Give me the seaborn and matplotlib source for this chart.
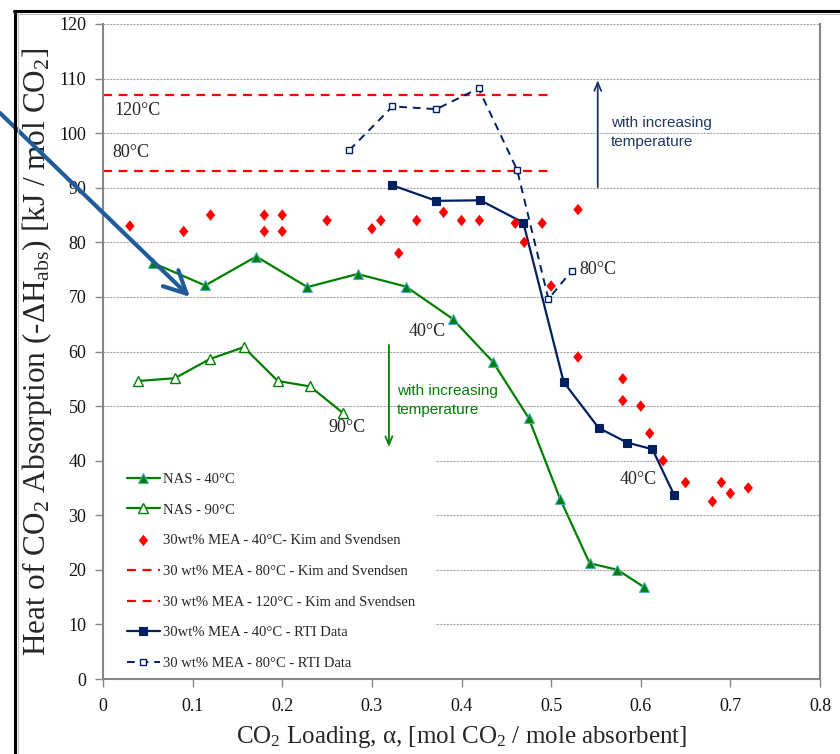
import numpy as np
import pandas as pd
import matplotlib
matplotlib.use('Agg')
import matplotlib.pyplot as plt
import seaborn as sns
from matplotlib.lines import Line2D
from matplotlib.patches import Rectangle

# ---------------- data ----------------
nas40_x = [0.056, 0.114, 0.171, 0.228, 0.284, 0.338, 0.390, 0.435, 0.475, 0.510, 0.543, 0.574, 0.604]
nas40_y = [76.2, 72.1, 77.4, 71.8, 74.2, 71.9, 66.0, 58.1, 47.8, 33.0, 21.2, 20.0, 16.8]

nas90_x = [0.039, 0.080, 0.119, 0.157, 0.195, 0.231, 0.268]
nas90_y = [54.6, 55.1, 58.6, 60.8, 54.6, 53.6, 48.7]

kim40_x = [0.03, 0.09, 0.12, 0.18, 0.18, 0.20, 0.20, 0.25, 0.30, 0.31, 0.33, 0.35, 0.38, 0.40,
           0.42, 0.46, 0.47, 0.49, 0.50, 0.53, 0.53, 0.58, 0.58, 0.60, 0.61, 0.625, 0.65, 0.68,
           0.69, 0.70, 0.72]
kim40_y = [83, 82, 85, 85, 82, 85, 82, 84, 82.5, 84, 78, 84, 85.5, 84,
           84, 83.5, 80, 83.5, 72, 86, 59, 55, 51, 50, 45, 40, 36, 32.5,
           36, 34, 35]

kim80_x = [0.0, 0.5]
kim80_y = [93, 93]
kim120_x = [0.0, 0.5]
kim120_y = [107, 107]

rti40_x = [0.322, 0.372, 0.421, 0.469, 0.514, 0.553, 0.585, 0.613, 0.637]
rti40_y = [90.5, 87.6, 87.7, 83.6, 54.4, 46.0, 43.3, 42.1, 33.8]

rti80_x = [0.275, 0.323, 0.372, 0.419, 0.462, 0.497, 0.523]
rti80_y = [96.9, 104.9, 104.4, 108.2, 93.3, 69.6, 74.8]

labels = ["NAS - 40\u00b0C", "NAS - 90\u00b0C", "30wt% MEA - 40\u00b0C- Kim and Svendsen",
          "30 wt% MEA - 80\u00b0C - Kim and Svendsen", "30 wt% MEA - 120\u00b0C - Kim and Svendsen",
          "30wt% MEA - 40\u00b0C - RTI Data", "30 wt% MEA - 80\u00b0C - RTI Data"]

x_ticks = [0, 0.1, 0.2, 0.3, 0.4, 0.5, 0.6, 0.7, 0.8]
x_ticklabels = ["0", "0.1", "0.2", "0.3", "0.4", "0.5", "0.6", "0.7", "0.8"]
y_ticks = list(range(0, 121, 10))

# ---------------- style ----------------
sns.set_style('white')
plt.rcParams['font.family'] = ['Liberation Serif', 'DejaVu Serif']
plt.rcParams['mathtext.fontset'] = 'custom'
plt.rcParams['mathtext.rm'] = 'Liberation Serif'
plt.rcParams['mathtext.it'] = 'Liberation Serif:italic'
plt.rcParams['mathtext.bf'] = 'Liberation Serif:bold'

GREEN = '#008000'
NAVY = '#002060'
RED = '#FF0000'
GRAY = '#868686'
SANS = ['Liberation Sans Narrow', 'Liberation Sans']

fig = plt.figure(figsize=(8.4, 7.54), dpi=100)
ax = fig.add_axes([103/840, 1-679/754, 717/840, 655/754])

# white area behind legend (hides grid lines)
ax.add_patch(Rectangle((0, 0), 0.370, 41.6, facecolor='white', edgecolor='none', zorder=1))

diamond = [(0, 1), (0.82, 0), (0, -1), (-0.82, 0), (0, 1)]

sns.lineplot(x=nas40_x, y=nas40_y, ax=ax, sort=False, estimator=None, color=GREEN, lw=1.6,
             marker='^', ms=6.5, mfc=GREEN, mec='#4BACC6', mew=0.8, label=labels[0], zorder=3)
sns.lineplot(x=nas90_x, y=nas90_y, ax=ax, sort=False, estimator=None, color=GREEN, lw=1.6,
             marker='^', ms=6.5, mfc='white', mec=GREEN, mew=1.0, label=labels[1], zorder=3)
sns.scatterplot(x=kim40_x, y=kim40_y, ax=ax, marker=diamond, s=68, color=RED,
                edgecolor='none', linewidth=0, label=labels[2], zorder=4)
sns.lineplot(x=kim80_x, y=kim80_y, ax=ax, sort=False, estimator=None, color=RED, lw=1.6,
             linestyle=(0, (4, 3)), label=labels[3], zorder=2)
sns.lineplot(x=kim120_x, y=kim120_y, ax=ax, sort=False, estimator=None, color=RED, lw=1.6,
             linestyle=(0, (4, 3)), label=labels[4], zorder=2)
sns.lineplot(x=rti40_x, y=rti40_y, ax=ax, sort=False, estimator=None, color=NAVY, lw=1.6,
             marker='s', ms=6, mfc=NAVY, mec=NAVY, mew=0.8, label=labels[5], zorder=3)
sns.lineplot(x=rti80_x, y=rti80_y, ax=ax, sort=False, estimator=None, color=NAVY, lw=1.4,
             linestyle=(0, (4, 3)), marker='s', ms=5, mfc='white', mec=NAVY, mew=1.0,
             label=labels[6], zorder=3)

# axes styling
ax.set_xlim(0, 0.8)
ax.set_ylim(0, 120)
ax.set_xticks(x_ticks)
ax.set_xticklabels(x_ticklabels)
ax.set_yticks(y_ticks)
ax.set_axisbelow(True)
ax.yaxis.grid(True, linestyle=(0, (2, 1)), color='#A6A6A6', lw=0.8)
ax.xaxis.grid(False)
for s in ['left', 'bottom', 'right']:
    ax.spines[s].set_color(GRAY)
    ax.spines[s].set_linewidth(1.5)
ax.spines['top'].set_visible(False)
ax.tick_params(axis='both', which='major', bottom=True, left=True, direction='out',
               length=6, width=1, color=GRAY, labelsize=13, labelcolor='#111111')
ax.tick_params(axis='y', pad=6)
ax.tick_params(axis='x', pad=8)

ax.set_xlabel("CO$_2$ Loading, \u03b1, [mol CO$_2$ / mole absorbent]", fontsize=18, labelpad=6)
ax.set_ylabel(r"Heat of CO$_2$ Absorption (-$\Delta$H$_{\mathrm{abs}}$) [kJ / mol CO$_2$]",
              fontsize=22.5)
ax.yaxis.set_label_coords(-0.068, 0.5)

# legend
h, l = ax.get_legend_handles_labels()
order = [l.index(t) for t in labels]
leg = ax.legend([h[i] for i in order], [l[i] for i in order], loc='upper left',
                bbox_to_anchor=(0.0335, 0.315), frameon=False, fontsize=10.5,
                handlelength=2.25, handletextpad=0.2, labelspacing=1.2,
                borderpad=0, borderaxespad=0, numpoints=1)

# text annotations
ax.text(0.0123, 104.1, "120\u00b0C", fontsize=13, va='center', ha='left')
ax.text(0.011, 96.4, "80\u00b0C", fontsize=13, va='center', ha='left')
ax.text(0.341, 63.6, "40\u00b0C", fontsize=13, va='center', ha='left')
ax.text(0.252, 46.0, "90\u00b0C", fontsize=13, va='center', ha='left')
ax.text(0.576, 36.6, "40\u00b0C", fontsize=13, va='center', ha='left')
ax.text(0.532, 75.1, "80\u00b0C", fontsize=13, va='center', ha='left')

ax.text(0.567, 100.1, "with increasing\ntemperature", fontsize=11, color='#1F3864',
        family=SANS, va='center', ha='left', linespacing=1.4)
ax.text(0.328, 51.0, "with increasing\ntemperature", fontsize=11, color=GREEN,
        family=SANS, va='center', ha='left', linespacing=1.4)

ax.annotate('', xy=(0.319, 42.5), xytext=(0.319, 61.2),
            arrowprops=dict(arrowstyle='->,head_length=0.6,head_width=0.25', color=GREEN, lw=1.3,
                            shrinkA=0, shrinkB=0))
ax.annotate('', xy=(0.552, 109.7), xytext=(0.552, 90.1),
            arrowprops=dict(arrowstyle='->,head_length=0.6,head_width=0.25', color='#1F3864', lw=1.3,
                            shrinkA=0, shrinkB=0))

# big blue arrow from outside the axes
ax.annotate('', xy=(0.097, 70.0), xycoords='data', xytext=(0, 754-113), textcoords='figure pixels',
            arrowprops=dict(arrowstyle='->,head_length=1.0,head_width=0.5', color='#1F5C99', lw=3,
                            shrinkA=0, shrinkB=0, mutation_scale=16),
            annotation_clip=False)

# outer frame (cropped)
fig.add_artist(Line2D([14/840, 1], [1-11/754, 1-11/754], transform=fig.transFigure, color='black', lw=2.2))
fig.add_artist(Line2D([14.5/840, 14.5/840], [0, 1-11/754], transform=fig.transFigure, color='black', lw=2.2))
fig.add_artist(Line2D([17/840, 1], [1-13.5/754, 1-13.5/754], transform=fig.transFigure, color='#BBBBBB', lw=0.8))
fig.add_artist(Line2D([17.5/840, 17.5/840], [0, 1-13.5/754], transform=fig.transFigure, color='#BBBBBB', lw=0.8))

fig.savefig('out.png', dpi=100)
